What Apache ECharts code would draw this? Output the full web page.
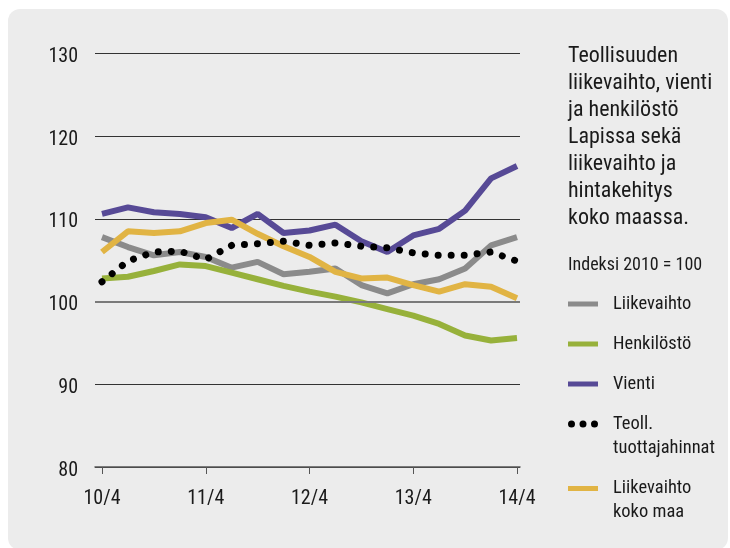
<!DOCTYPE html>
<html>
<head>
<meta charset="utf-8">
<script src="https://cdn.jsdelivr.net/npm/echarts@6/dist/echarts.min.js"></script>
<style>
  html, body { margin: 0; padding: 0; background: #ffffff; width: 730px; height: 548px; overflow: hidden; }
  #panel { position: absolute; left: 8px; top: 9px; width: 720px; height: 541px; background: #ececec; border-radius: 12px; }
  #chart { position: absolute; left: 0; top: 0; width: 730px; height: 548px; }
</style>
</head>
<body>
<div id="panel"></div>
<div id="chart"></div>
<script>
const quarters = ['10/4','11/1','11/2','11/3','11/4','12/1','12/2','12/3','12/4','13/1','13/2','13/3','13/4','14/1','14/2','14/3','14/4'];
const yTicks = [80, 90, 100, 110, 120, 130];
const liikevaihto = [107.8, 106.6, 105.6, 106.0, 105.4, 104.1, 104.8, 103.3, 103.6, 104.0, 102.0, 101.0, 102.1, 102.7, 104.0, 106.8, 107.8];
const henkilosto = [102.8, 103.0, 103.7, 104.5, 104.3, 103.5, 102.7, 101.9, 101.2, 100.6, 99.9, 99.1, 98.3, 97.3, 95.9, 95.3, 95.6];
const vienti = [110.6, 111.4, 110.8, 110.6, 110.2, 108.9, 110.6, 108.3, 108.6, 109.3, 107.3, 106.0, 108.0, 108.8, 111.0, 114.9, 116.4];
const tuottajahinnat = [102.4, 104.9, 106.0, 106.1, 105.1, 106.8, 107.0, 107.3, 106.8, 107.1, 106.7, 106.5, 105.9, 105.6, 105.6, 106.0, 104.9];
const liikevaihtoKokoMaa = [106.0, 108.5, 108.3, 108.5, 109.5, 109.9, 108.2, 106.7, 105.4, 103.6, 102.8, 102.9, 102.0, 101.2, 102.1, 101.8, 100.4];

const titleText = 'Teollisuuden\nliikevaihto, vienti\nja henkilöstö\nLapissa sekä\nliikevaihto ja\nhintakehitys\nkoko maassa.';
const indexText = 'Indeksi 2010 = 100';

const FONT = "'Roboto Condensed', 'DejaVu Sans Condensed', sans-serif";
const TXT = '#1a1a1a';
const C_GRAY = '#8b8b8b', C_GREEN = '#97b13b', C_PURPLE = '#574a96', C_YELLOW = '#e1b444', C_BLACK = '#000000';

const dotsIcon = 'path://M0,3.5a3.5,3.5 0 1,0 7,0a3.5,3.5 0 1,0 -7,0zM11.5,3.5a3.5,3.5 0 1,0 7,0a3.5,3.5 0 1,0 -7,0zM23,3.5a3.5,3.5 0 1,0 7,0a3.5,3.5 0 1,0 -7,0z';

function legendFor(name, top, icon, h) {
  return {
    left: 568, top: top, padding: 0, orient: 'vertical', selectedMode: false,
    itemWidth: 30, itemHeight: h || 5,
    icon: icon || 'rect',
    itemStyle: { borderWidth: 0 },
    textStyle: { fontFamily: FONT, fontSize: 18.5, lineHeight: 24, color: TXT, padding: [0, 0, 0, 10] },
    formatter: function (n) { return n === 'Teoll. tuottajahinnat' ? ' \nTeoll.\ntuottajahinnat' : (n === 'Liikevaihto koko maa' ? ' \nLiikevaihto\nkoko maa' : n); },
    data: [name]
  };
}

const chart = echarts.init(document.getElementById('chart'), null, { renderer: 'canvas' });
chart.setOption({
  animation: false,
  backgroundColor: 'transparent',
  title: [
    { text: titleText, left: 568, top: 42.5, padding: 0,
      textStyle: { fontFamily: FONT, fontSize: 22, lineHeight: 27, fontWeight: 'normal', color: TXT } },
    { text: indexText, left: 568, top: 254, padding: 0,
      textStyle: { fontFamily: FONT, fontSize: 18, lineHeight: 22, fontWeight: 'normal', color: TXT } }
  ],
  legend: [
    legendFor('Liikevaihto', 292),
    legendFor('Henkilöstö', 332),
    legendFor('Vienti', 372),
    legendFor('Teoll. tuottajahinnat', 388, dotsIcon, 7),
    legendFor('Liikevaihto koko maa', 452.5)
  ],
  grid: [
    { left: 95, right: 210, top: 53.5, bottom: 81 },
    { left: 102, right: 213, top: 53.5, bottom: 81 }
  ],
  xAxis: [
    { gridIndex: 0, type: 'value', min: 0, max: 1,
      axisLine: { show: true, lineStyle: { color: '#555', width: 1.5 } },
      axisTick: { show: false }, axisLabel: { show: false }, splitLine: { show: false } },
    { gridIndex: 1, type: 'category', data: quarters, boundaryGap: false,
      axisLine: { show: false },
      axisTick: { show: true, interval: 3, length: 7, inside: false, lineStyle: { color: '#555', width: 1 } },
      axisLabel: { interval: 3, margin: 22, fontFamily: FONT, fontSize: 20, color: TXT },
      splitLine: { show: false } }
  ],
  yAxis: [
    { gridIndex: 0, type: 'value', min: yTicks[0], max: yTicks[yTicks.length - 1], interval: 10,
      axisLine: { show: false }, axisTick: { show: false },
      axisLabel: { margin: 17, color: TXT,
        formatter: function (v) { return '{v|' + v + '}'; },
        rich: { v: { fontFamily: FONT, fontSize: 20, color: TXT, padding: [7, 0, 0, 0] } } },
      splitLine: { show: true, lineStyle: { color: '#333', width: 1 } } },
    { gridIndex: 1, type: 'value', min: yTicks[0], max: yTicks[yTicks.length - 1], interval: 10, show: false,
      splitLine: { show: false } }
  ],
  series: [
    { name: 'ref100', type: 'line', xAxisIndex: 0, yAxisIndex: 0, data: [], silent: true,
      markLine: { silent: true, symbol: 'none', label: { show: false },
        lineStyle: { color: '#7a7a7a', width: 2, type: 'solid' }, data: [{ yAxis: 100 }] } },
    { name: 'Liikevaihto', type: 'line', xAxisIndex: 1, yAxisIndex: 1, data: liikevaihto,
      showSymbol: false, symbol: 'none', color: C_GRAY, lineStyle: { color: C_GRAY, width: 6 } },
    { name: 'Henkilöstö', type: 'line', xAxisIndex: 1, yAxisIndex: 1, data: henkilosto,
      showSymbol: false, symbol: 'none', color: C_GREEN, lineStyle: { color: C_GREEN, width: 6 } },
    { name: 'Vienti', type: 'line', xAxisIndex: 1, yAxisIndex: 1, data: vienti,
      showSymbol: false, symbol: 'none', color: C_PURPLE, lineStyle: { color: C_PURPLE, width: 6 } },
    { name: 'Liikevaihto koko maa', type: 'line', xAxisIndex: 1, yAxisIndex: 1, data: liikevaihtoKokoMaa,
      showSymbol: false, symbol: 'none', color: C_YELLOW, lineStyle: { color: C_YELLOW, width: 6 } },
    { name: 'Teoll. tuottajahinnat', type: 'line', xAxisIndex: 1, yAxisIndex: 1, data: tuottajahinnat,
      showSymbol: false, symbol: 'none', color: C_BLACK,
      lineStyle: { color: C_BLACK, width: 7, type: [0.01, 13], cap: 'round' } }
  ]
});
</script>
</body>
</html>
